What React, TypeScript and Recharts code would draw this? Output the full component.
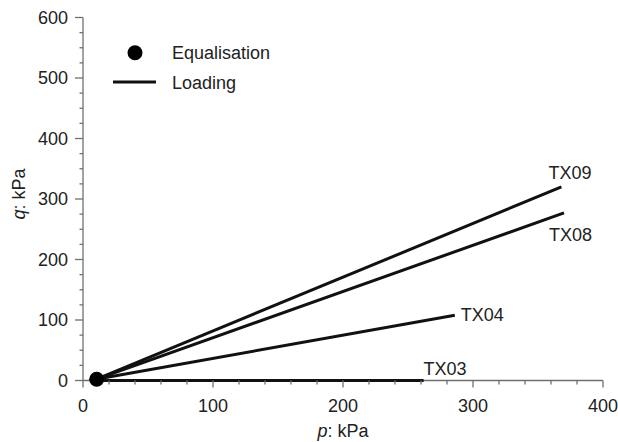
import React from 'react';
import { ComposedChart, Line, Scatter, XAxis, YAxis, Legend, Label } from 'recharts';

const seriesNames = ['TX09', 'TX08', 'TX04', 'TX03'];
const startP = [10, 10, 10, 10];
const startQ = [2, 2, 2, 0];
const endP = [368, 370, 286, 262];
const endQ = [320, 277, 108, 0];
const eqP = [10.5];
const eqQ = [2];
const xTicks = [0, 20, 40, 60, 80, 100, 120, 140, 160, 180, 200, 220, 240, 260, 280, 300, 320, 340, 360, 380, 400];
const yTicks = [0, 25, 50, 75, 100, 125, 150, 175, 200, 225, 250, 275, 300, 325, 350, 375, 400, 425, 450, 475, 500, 525, 550, 575, 600];
const xMajor = [0, 100, 200, 300, 400];
const yMajor = [0, 100, 200, 300, 400, 500, 600];
const legendLabels = ['Equalisation', 'Loading'];

const FONT = '"Liberation Sans", Arial, sans-serif';
const FS = 18;
const AXIS = '#707070';
const TEXT = '#222';
const LINE = '#111';

// label offsets (dx, dy) relative to end point
const labelOffsets: Record<string, [number, number, string]> = {
  TX09: [-13, -8, 'start'],
  TX08: [-15, 28, 'start'],
  TX04: [6, 6, 'start'],
  TX03: [0, -6, 'start'],
};

const seriesData = seriesNames.map((name, i) => ({
  name,
  data: [
    { p: startP[i], q: startQ[i] },
    { p: endP[i], q: endQ[i] },
  ],
}));

const eqData = eqP.map((p, i) => ({ p, q: eqQ[i] }));

const XTick = (props: any) => {
  const { x, y, payload } = props;
  const major = xMajor.includes(payload.value);
  return (
    <g>
      <line x1={x} y1={y} x2={x} y2={y + (major ? 7 : 4)} stroke={AXIS} strokeWidth={1.3} />
      {major && (
        <text x={x} y={y + 31} textAnchor="middle" fontSize={FS} fontFamily={FONT} fill={TEXT}>
          {payload.value}
        </text>
      )}
    </g>
  );
};

const YTick = (props: any) => {
  const { x, y, payload } = props;
  const major = yMajor.includes(payload.value);
  return (
    <g>
      <line x1={x - (major ? 8 : 3.5)} y1={y} x2={x} y2={y} stroke={AXIS} strokeWidth={1.3} />
      {major && (
        <text x={x - 15} y={y} dy="0.36em" textAnchor="end" fontSize={FS} fontFamily={FONT} fill={TEXT}>
          {payload.value}
        </text>
      )}
    </g>
  );
};

const renderLegend = () => (
  <svg width={190} height={62} style={{ display: 'block' }}>
    <circle cx={27} cy={14.7} r={7.5} fill="#000" />
    <line x1={5} y1={44} x2={48} y2={44} stroke={LINE} strokeWidth={3} />
    <text x={64} y={15} dy="0.36em" fontSize={FS} fontFamily={FONT} fill={TEXT}>
      {legendLabels[0]}
    </text>
    <text x={64} y={45} dy="0.36em" fontSize={FS} fontFamily={FONT} fill={TEXT}>
      {legendLabels[1]}
    </text>
  </svg>
);

const makeLabel = (name: string, lastIndex: number) => (props: any) => {
  const { x, y, index } = props;
  if (index !== lastIndex) return null;
  const [dx, dy, anchor] = labelOffsets[name];
  return (
    <text x={x + dx} y={y + dy} textAnchor={anchor as any} fontSize={FS} fontFamily={FONT} fill={TEXT}>
      {name}
    </text>
  );
};

const XLabel = (props: any) => {
  const vb = props.viewBox;
  return (
    <text x={vb.x + vb.width / 2} y={vb.y + 56} textAnchor="middle" fontSize={FS} fontFamily={FONT} fill={TEXT}>
      <tspan fontStyle="italic">p</tspan>: kPa
    </text>
  );
};

const YLabel = (props: any) => {
  const vb = props.viewBox;
  const cx = vb.x - 4;
  const cy = vb.y + vb.height / 2 - 5;
  return (
    <text
      x={cx}
      y={cy}
      dy="0.36em"
      transform={`rotate(-90, ${cx}, ${cy})`}
      textAnchor="middle"
      fontSize={FS}
      fontFamily={FONT}
      fill={TEXT}
    >
      <tspan fontStyle="italic">q</tspan>: kPa
    </text>
  );
};

const EqDot = (p: any) => <circle cx={p.cx} cy={p.cy} r={7.5} fill="#000" />;

export default function App() {
  return (
    <div style={{ position: 'absolute', left: 0, top: 0, width: 618, height: 442, background: '#fff' }}>
      <ComposedChart width={618} height={442} margin={{ top: 17.5, right: 15, bottom: 31.5, left: 23 }}>
        <XAxis
          type="number"
          dataKey="p"
          domain={[0, 400]}
          ticks={xTicks}
          interval={0}
          tickSize={0}
          tickMargin={0}
          tickLine={false}
          tick={<XTick />}
          height={30}
          stroke={AXIS}
          strokeWidth={1.3}
        >
          <Label content={<XLabel />} />
        </XAxis>
        <YAxis
          type="number"
          dataKey="q"
          domain={[0, 600]}
          ticks={yTicks}
          interval={0}
          tickSize={0}
          tickMargin={0}
          tickLine={false}
          tick={<YTick />}
          width={60}
          stroke={AXIS}
          strokeWidth={1.3}
        >
          <Label content={<YLabel />} />
        </YAxis>
        <Legend
          layout="vertical"
          align="center"
          verticalAlign="middle"
          content={renderLegend}
          wrapperStyle={{ left: 108, top: 38, width: 190, height: 62 }}
        />
        {seriesData.map((s) => (
          <Line
            key={s.name}
            data={s.data}
            dataKey="q"
            name={s.name}
            stroke={LINE}
            strokeWidth={3}
            dot={false}
            activeDot={false}
            isAnimationActive={false}
            legendType="none"
            zIndex={550}
            label={makeLabel(s.name, s.data.length - 1)}
          />
        ))}
        <Scatter
          data={eqData}
          dataKey="q"
          isAnimationActive={false}
          legendType="none"
          zIndex={650}
          shape={EqDot}
        />
      </ComposedChart>
    </div>
  );
}
